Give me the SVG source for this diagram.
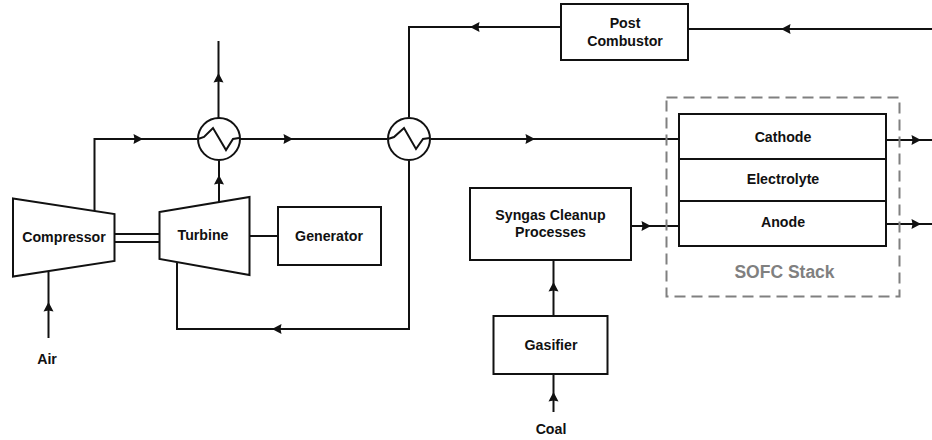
<svg xmlns="http://www.w3.org/2000/svg" width="932" height="440" viewBox="0 0 932 440">
<style>
.s{fill:none;stroke:#111;stroke-width:2}
.b{fill:#fff;stroke:#111;stroke-width:2}
.h{fill:#111}
text{font-family:"Liberation Sans",Arial,sans-serif;font-weight:bold;font-size:14.2px;fill:#111;text-anchor:middle}
</style>
<defs>
<path id="ar" class="h" d="M5 0L-4.500 -5L-3.500 0L-4.500 5Z"/>
</defs>
<rect width="932" height="440" fill="#fff"/>
<g id="connectors">
<path class="s" d="M94.500 211V139H197"/>
<path class="s" d="M240 139H387"/>
<path class="s" d="M431 139H679"/>
<path class="s" d="M218.500 118V41"/>
<path class="s" d="M219 202V161"/>
<path class="s" d="M409 117V27H561"/>
<path class="s" d="M688 29H932"/>
<path class="s" d="M409 161V329H177V263"/>
<path class="s" d="M48.500 338V272"/>
<path class="s" d="M115 234H159M115 242H159"/>
<path class="s" d="M250 236H278"/>
<path class="s" d="M631 226H679"/>
<path class="s" d="M553.500 316V260"/>
<path class="s" d="M553.500 412V374"/>
<path class="s" d="M886 140H932"/>
<path class="s" d="M886 224H932"/>
<use href="#ar" transform="translate(138,139)"/>
<use href="#ar" transform="translate(288,139)"/>
<use href="#ar" transform="translate(530,139)"/>
<use href="#ar" transform="translate(218.500,78) rotate(-90)"/>
<use href="#ar" transform="translate(219,180) rotate(-90)"/>
<use href="#ar" transform="translate(475,27) rotate(180)"/>
<use href="#ar" transform="translate(786,29) rotate(180)"/>
<use href="#ar" transform="translate(277,329) rotate(180)"/>
<use href="#ar" transform="translate(48.500,307) rotate(-90)"/>
<use href="#ar" transform="translate(646,226)"/>
<use href="#ar" transform="translate(553.500,287) rotate(-90)"/>
<use href="#ar" transform="translate(553.500,397) rotate(-90)"/>
<use href="#ar" transform="translate(916,140)"/>
<use href="#ar" transform="translate(916,224)"/>
</g>
<g id="sofc-stack">
<rect x="666.500" y="97.500" width="233" height="199" fill="none" stroke="#808080" stroke-width="2" stroke-dasharray="11 6"/>
<text x="784.500" y="277.500" style="font-size:17.500px;fill:#808080">SOFC Stack</text>
</g>
<g id="compressor"><path class="b" d="M13 198.500L114.500 214V261L13 276.500Z"/><text x="64" y="242">Compressor</text></g>
<g id="turbine"><path class="b" d="M159.500 212L249.500 197V275L159.500 259Z"/><text x="203" y="240">Turbine</text></g>
<g id="generator"><rect class="b" x="278" y="207" width="103" height="58"/><text x="329" y="241">Generator</text></g>
<g id="hx1"><circle class="b" cx="219" cy="139" r="21"/><path class="s" d="M198 139L204 137L213 128L226 150L233 139L239 138"/></g>
<g id="hx2"><circle class="b" cx="409" cy="139" r="21"/><path class="s" d="M388 139L394 137L404 128L416 149L423 139L430 138"/></g>
<g id="post-combustor"><rect class="b" x="561" y="4" width="127" height="56"/><text x="625" y="28">Post</text><text x="625" y="46">Combustor</text></g>
<g id="syngas"><rect class="b" x="470" y="188" width="161" height="72"/><text x="550.500" y="220">Syngas Cleanup</text><text x="550.500" y="237">Processes</text></g>
<g id="gasifier"><rect class="b" x="493.500" y="316" width="114" height="58"/><text x="551" y="350">Gasifier</text></g>
<g id="cathode"><rect class="b" x="679" y="114" width="207" height="45"/><text x="783" y="142">Cathode</text></g>
<g id="electrolyte"><rect class="b" x="679" y="159" width="207" height="42"/><text x="783" y="184">Electrolyte</text></g>
<g id="anode"><rect class="b" x="679" y="201" width="207" height="45"/><text x="783" y="227">Anode</text></g>
<g id="air"><text x="47" y="364">Air</text></g>
<g id="coal"><text x="551" y="434">Coal</text></g>
</svg>
